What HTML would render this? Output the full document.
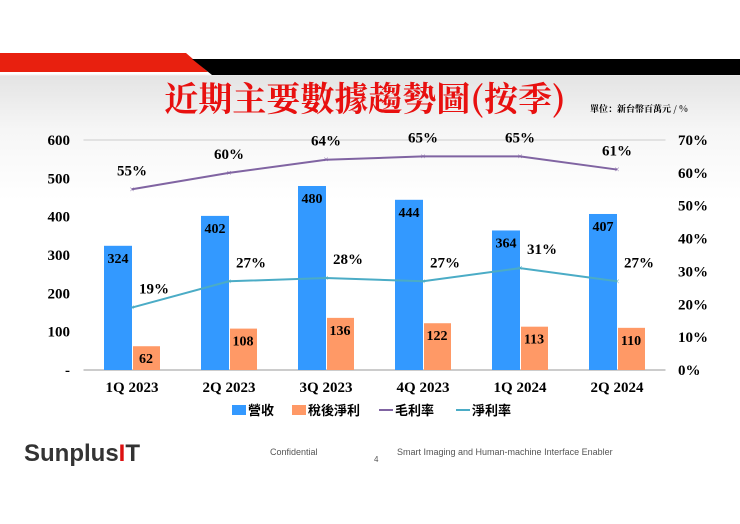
<!DOCTYPE html>
<html><head><meta charset="utf-8"><style>
body{margin:0;width:740px;height:524px;overflow:hidden;background:#fff;font-family:"Liberation Serif","Noto Serif CJK SC",serif}
#bg{position:absolute;left:0;top:0;width:740px;height:524px;background:linear-gradient(#fff 0,#fff 74px,#e4e4e4 76px,#f6f6f6 130px,#fff 200px,#fff)}
svg{position:absolute;left:0;top:0}
</style></head><body>
<div id="bg"></div>
<svg width="740" height="524" id="s">
<polygon points="0,53 186,53 208,72 0,72" fill="#e8200f"/>
<polygon points="192,59 740,59 740,75 212,75" fill="#000"/>
<text x="365" y="111" text-anchor="middle" font-size="34" font-weight="bold" fill="#e8100f" font-family="Noto Serif CJK SC,serif">近期主要數據趨勢圖(按季)</text>
<text x="590" y="112" font-size="9" font-weight="bold" font-family="Noto Serif CJK SC,serif">單位：新台幣百萬元 / %</text>
<g id="g"></g>
<g font-family="Noto Sans CJK SC,sans-serif" font-size="13" font-weight="bold">
<rect x="232" y="405" width="14" height="10" fill="#3399ff"/>
<text x="248" y="415">營收</text>
<rect x="292" y="405" width="14" height="10" fill="#ff9966"/>
<text x="308" y="415">稅後淨利</text>
<line x1="379" y1="410" x2="393" y2="410" stroke="#8064a2" stroke-width="2"/>
<text x="395" y="415">毛利率</text>
<line x1="456" y1="410" x2="470" y2="410" stroke="#4bacc6" stroke-width="2"/>
<text x="472" y="415">淨利率</text>
</g>
<text x="24" y="461" font-family="Liberation Sans,sans-serif" font-size="24" font-weight="bold" fill="#333">Sunplus<tspan fill="#d11">I</tspan>T</text>
<text x="270" y="455" font-family="Liberation Sans,sans-serif" font-size="9" fill="#555">Confidential</text>
<text x="374" y="462" font-family="Liberation Sans,sans-serif" font-size="8" fill="#555">4</text>
<text x="397" y="455" font-family="Liberation Sans,sans-serif" font-size="9" fill="#555">Smart Imaging and Human-machine Interface Enabler</text>
</svg>
<script>
const categories=["1Q 2023","2Q 2023","3Q 2023","4Q 2023","1Q 2024","2Q 2024"];
const revenue=[324,402,480,444,364,407];
const netIncome=[62,108,136,122,113,110];
const grossMargin=[55,60,64,65,65,61];
const netMargin=[19,27,28,27,31,27];
const leftTicks=[0,100,200,300,400,500,600];
const rightTicks=[0,10,20,30,40,50,60,70];
const NS="http://www.w3.org/2000/svg",g=document.getElementById('g');
const X0=83.5,X1=665.5,Y0=370,Y1=140;
const bw=(X1-X0)/categories.length;
const xc=i=>X0+bw*(i+0.5);
const yl=v=>Y0-(v/600)*(Y0-Y1);
const yr=v=>Y0-(v/70)*(Y0-Y1);
function el(t,a,txt){const e=document.createElementNS(NS,t);for(const k in a)e.setAttribute(k,a[k]);if(txt!=null)e.textContent=txt;g.appendChild(e);return e;}
let e;
e=el('line',{x1:X0,x2:X1,y1:Y1,y2:Y1,stroke:'#ccc'});


e=el('line',{x1:X0,x2:X1,y1:Y0,y2:Y0,stroke:'#999'});


leftTicks.forEach(v=>{e=el('text',{x:70,y:yl(v)+5,'text-anchor':'end','font-size':15,'font-weight':'bold'},v===0?'-':v);

});
rightTicks.forEach(v=>{e=el('text',{x:678,y:yr(v)+5,'font-size':15,'font-weight':'bold'},v+'%');

});
categories.forEach((c,i)=>{
const x=xc(i);
e=el('text',{x:x,y:392,'text-anchor':'middle','font-size':15,'font-weight':'bold'},c);


e=el('rect',{x:x-28,y:yl(revenue[i]),width:28,height:Y0-yl(revenue[i]),fill:'#3399ff'});


e=el('rect',{x:x+1,y:yl(netIncome[i]),width:27,height:Y0-yl(netIncome[i]),fill:'#ff9966'});


e=el('text',{x:x-14,y:yl(revenue[i])+17,'text-anchor':'middle','font-size':14,'font-weight':'bold'},revenue[i]);


e=el('text',{x:x+14,y:yl(netIncome[i])+17,'text-anchor':'middle','font-size':14,'font-weight':'bold'},netIncome[i]);


});
[[grossMargin,'#8064a2','gross-margin'],[netMargin,'#4bacc6','net-margin']].forEach(([d,col,n])=>{
e=el('polyline',{points:d.map((v,i)=>xc(i)+','+yr(v)).join(' '),fill:'none',stroke:col,'stroke-width':2});


d.forEach((v,i)=>{
e=el('text',{x:xc(i),y:yr(v)+3,'text-anchor':'middle','font-size':9,fill:col},'×');


e=el('text',{x:xc(i)+(n==='net-margin'?22:0),y:yr(v)-14,'text-anchor':'middle','font-size':15,'font-weight':'bold'},v+'%');


});
});
</script>
</body></html>
